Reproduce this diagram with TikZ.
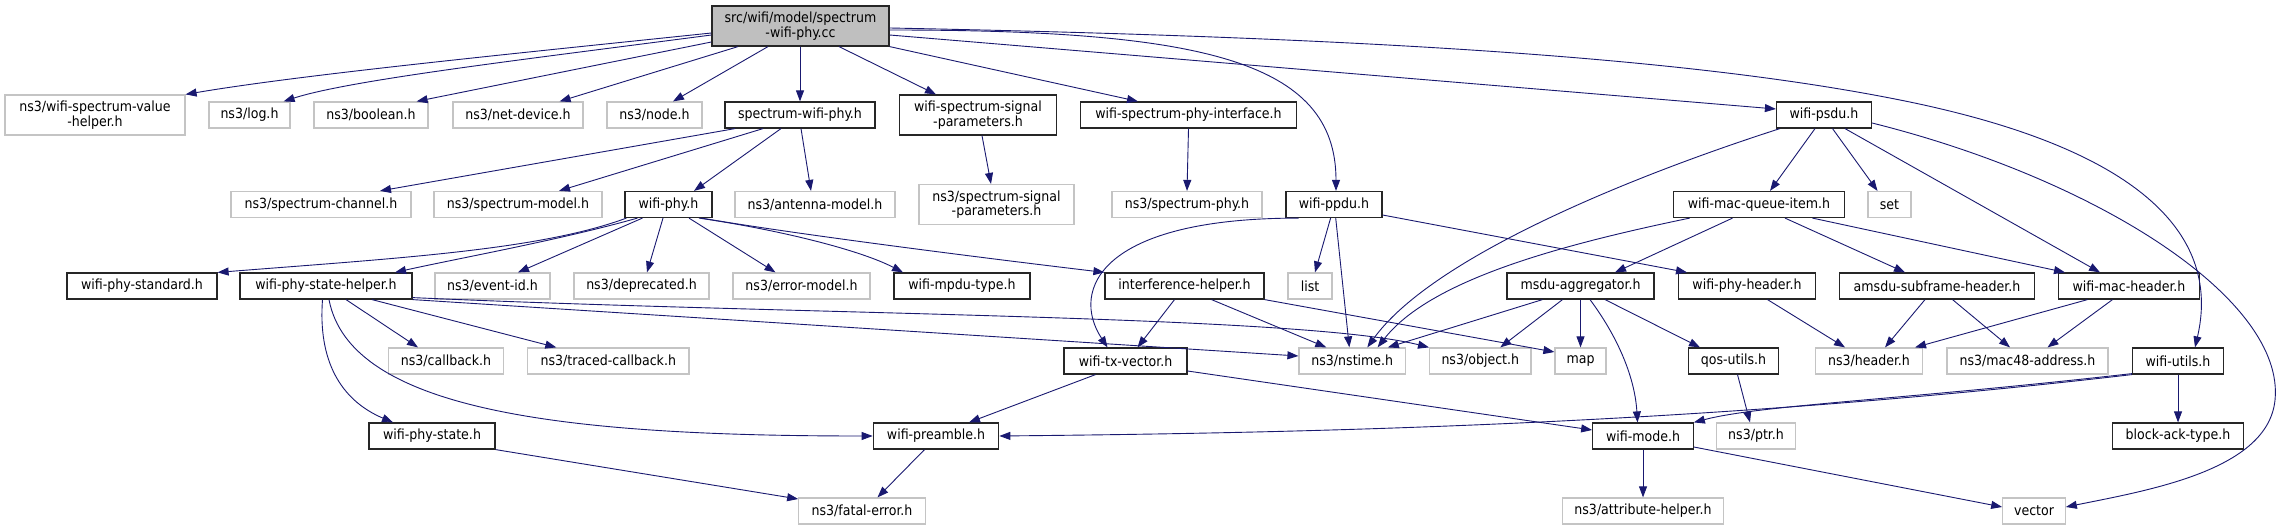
\documentclass[tikz,border=0pt]{standalone}
\usepackage{fontspec}
\setmainfont{DejaVu Sans Condensed}
\usetikzlibrary{arrows.meta}
\definecolor{gfill}{HTML}{BFBFBF}
\definecolor{gline}{HTML}{C4C4C4}
\definecolor{ecol}{HTML}{191970}
\newcommand{\dfs}{\fontsize{14}{14.5}\selectfont}
\tikzset{
  basebox/.style={rectangle, inner sep=0pt, align=center, font=\dfs, text=black, minimum height=26pt},
  intbox/.style={basebox, draw=black!85, line width=1.2pt},
  extbox/.style={basebox, draw=gline, line width=1.2pt},
  dep/.style={draw=ecol, line width=0.9pt, -{Triangle[length=11pt,width=8pt]}},
}
\begin{document}
\begin{tikzpicture}[x=1pt,y=-1pt]
\useasboundingbox[fill=white] (0,0) rectangle (2285,529);
% row 1
\node[intbox, fill=gfill, minimum width=177pt, minimum height=40pt] (main) at (800.5,26) {src/wifi/model/spectrum\\-wifi-phy.cc};
% row 2
\node[extbox, minimum width=180pt, minimum height=40pt] (wsvh) at (95,115) {ns3/wifi-spectrum-value\\-helper.h};
\node[extbox, minimum width=81pt] (log) at (249.5,115) {ns3/log.h};
\node[extbox, minimum width=114pt] (bool) at (371,115) {ns3/boolean.h};
\node[extbox, minimum width=130pt] (netdev) at (518,115) {ns3/net-device.h};
\node[extbox, minimum width=95pt] (nodeh) at (654.5,115) {ns3/node.h};
\node[intbox, minimum width=150pt] (swp) at (800,115) {spectrum-wifi-phy.h};
\node[intbox, minimum width=157pt, minimum height=40pt] (wssp) at (978,115) {wifi-spectrum-signal\\-parameters.h};
\node[intbox, minimum width=216pt] (wspi) at (1188.5,115) {wifi-spectrum-phy-interface.h};
\node[intbox, minimum width=95pt] (psdu) at (1824,115) {wifi-psdu.h};
% row 3
\node[extbox, minimum width=180pt] (spch) at (321,204.5) {ns3/spectrum-channel.h};
\node[extbox, minimum width=168pt] (spmod) at (518,204.5) {ns3/spectrum-model.h};
\node[intbox, minimum width=87pt] (wphy) at (668.5,204.5) {wifi-phy.h};
\node[extbox, minimum width=160pt] (ant) at (815,204.5) {ns3/antenna-model.h};
\node[extbox, minimum width=155pt, minimum height=40pt] (ssp) at (996.5,204.5) {ns3/spectrum-signal\\-parameters.h};
\node[extbox, minimum width=150pt] (sphy) at (1187,204.5) {ns3/spectrum-phy.h};
\node[intbox, minimum width=96pt] (ppdu) at (1334,204.5) {wifi-ppdu.h};
\node[intbox, minimum width=170.5pt] (mqi) at (1759,204.5) {wifi-mac-queue-item.h};
\node[extbox, minimum width=43pt] (setn) at (1889.5,204.5) {set};
% row 4
\node[intbox, minimum width=150pt] (wps) at (142,286) {wifi-phy-standard.h};
\node[intbox, minimum width=172pt] (wpsh) at (326,286) {wifi-phy-state-helper.h};
\node[extbox, minimum width=115pt] (evid) at (492.5,286) {ns3/event-id.h};
\node[extbox, minimum width=135pt] (depr) at (641.5,286) {ns3/deprecated.h};
\node[extbox, minimum width=137pt] (errm) at (801.5,286) {ns3/error-model.h};
\node[intbox, minimum width=136pt] (mpdu) at (962,286) {wifi-mpdu-type.h};
\node[intbox, minimum width=159pt] (ifh) at (1184.5,286) {interference-helper.h};
\node[extbox, minimum width=44pt] (listn) at (1310,286) {list};
\node[intbox, minimum width=147pt] (msdu) at (1580.5,286) {msdu-aggregator.h};
\node[intbox, minimum width=137pt] (wph) at (1747,286) {wifi-phy-header.h};
\node[intbox, minimum width=194.5pt] (amsdu) at (1937,286) {amsdu-subframe-header.h};
\node[intbox, minimum width=141.5pt] (mach) at (2129,286) {wifi-mac-header.h};
% row 5
\node[extbox, minimum width=115.6pt] (cb) at (446,361) {ns3/callback.h};
\node[extbox, minimum width=161.4pt] (tcb) at (608.3,361) {ns3/traced-callback.h};
\node[intbox, minimum width=123pt] (txv) at (1125.5,361) {wifi-tx-vector.h};
\node[extbox, minimum width=106.6pt] (nst) at (1352.3,361) {ns3/nstime.h};
\node[extbox, minimum width=101.4pt] (obj) at (1480.3,361) {ns3/object.h};
\node[extbox, minimum width=51pt] (mapn) at (1580.5,361) {map};
\node[intbox, minimum width=90pt] (qos) at (1733.5,361) {qos-utils.h};
\node[extbox, minimum width=106.5pt] (hdr) at (1869,361) {ns3/header.h};
\node[extbox, minimum width=161pt] (mac48) at (2027.5,361) {ns3/mac48-address.h};
\node[intbox, minimum width=91pt] (wu) at (2178,361) {wifi-utils.h};
% row 6
\node[intbox, minimum width=126pt] (wpst) at (432,436) {wifi-phy-state.h};
\node[intbox, minimum width=125.5pt] (wpre) at (936,436) {wifi-preamble.h};
\node[intbox, minimum width=100.5pt] (wmode) at (1643,436) {wifi-mode.h};
\node[extbox, minimum width=79pt] (ptr) at (1756,436) {ns3/ptr.h};
\node[intbox, minimum width=130.5pt] (back) at (2178,436) {block-ack-type.h};
% row 7
\node[extbox, minimum width=126.5pt] (fatal) at (862,511) {ns3/fatal-error.h};
\node[extbox, minimum width=161.5pt] (attr) at (1643,511) {ns3/attribute-helper.h};
\node[extbox, minimum width=62.5pt] (vec) at (2034,511) {vector};

% edges from main
\draw[dep] ([yshift=-7pt]main.west) .. controls (500,55) and (300,75) .. (wsvh.north east);
\draw[dep] ([yshift=-9pt]main.west) .. controls (520,60) and (350,80) .. ([xshift=-7pt]log.north east);
\draw[dep] ([yshift=-16pt]main.west) -- ([xshift=-12pt]bool.north east);
\draw[dep] ([xshift=-62.5pt]main.south) -- ([xshift=-24pt]netdev.north east);
\draw[dep] ([xshift=-32.5pt]main.south) -- ([xshift=18.5pt]nodeh.north);
\draw[dep] ([xshift=-0.5pt]main.south) -- (swp.north);
\draw[dep] ([xshift=38.5pt]main.south) -- ([xshift=-42pt]wssp.north);
\draw[dep] (main.south east) -- ([xshift=-50.5pt]wspi.north);
\draw[dep] ([yshift=-4pt]main.east) .. controls (1200,30) and (1336,60) .. ([xshift=2pt]ppdu.north);
\draw[dep] ([yshift=-9pt]main.east) -- ([yshift=6pt]psdu.west);
\draw[dep] ([yshift=-2pt]main.east) .. controls (1400,38) and (1700,60) .. (1900,100) .. controls (2150,150) and (2220,240) .. ([xshift=17pt]wu.north);
% spectrum-wifi-phy.h
\draw[dep] ([xshift=-65pt]swp.south) -- ([xshift=59pt]spch.north);
\draw[dep] ([xshift=-37pt]swp.south) -- ([xshift=41pt]spmod.north);
\draw[dep] ([xshift=-19pt]swp.south) -- ([xshift=25.5pt]wphy.north);
\draw[dep] ([xshift=1pt]swp.south) -- ([xshift=-4pt]ant.north);
\draw[dep] ([xshift=4pt]wssp.south) -- ([xshift=-5.5pt]ssp.north);
\draw[dep] (wspi.south) -- (sphy.north);
% wifi-phy.h
\draw[dep] ([xshift=2pt]wphy.south west) .. controls (540,250) and (400,258) .. (wps.north east);
\draw[dep] ([xshift=13pt]wphy.south west) .. controls (560,240) and (460,258) .. ([xshift=69pt]wpsh.north);
\draw[dep] ([xshift=18pt]wphy.south west) -- ([xshift=25.5pt]evid.north);
\draw[dep] ([xshift=-5.5pt]wphy.south) -- ([xshift=5.5pt]depr.north);
\draw[dep] ([xshift=20.5pt]wphy.south) -- ([xshift=-26pt]errm.north);
\draw[dep] ([xshift=30.5pt]wphy.south) .. controls (780,230) and (860,250) .. ([xshift=-59pt]mpdu.north);
\draw[dep] ([xshift=-11pt]wphy.south east) .. controls (800,235) and (1000,260) .. (ifh.north west);
% wifi-phy-state-helper.h
\draw[dep] ([xshift=20pt]wpsh.south) -- ([xshift=-28pt]cb.north);
\draw[dep] ([xshift=46pt]wpsh.south) -- ([xshift=-52pt]tcb.north);
\draw[dep] ([xshift=-3.5pt]wpsh.south) .. controls (318,360) and (340,400) .. ([xshift=-39pt]wpst.north);
\draw[dep] ([xshift=3pt]wpsh.south) .. controls (350,410) and (560,436) .. (wpre.west);
\draw[dep] (wpsh.south east) -- ([yshift=5pt]nst.west);
\draw[dep] ([yshift=2pt]wpsh.south east) .. controls (800,315) and (1300,315) .. (obj.north west);
\draw[dep] (wpst.south east) -- ([yshift=12pt]fatal.west);
\draw[dep] ([xshift=-11.5pt]wpre.south) -- ([xshift=15.5pt]fatal.north);
% wifi-tx-vector.h
\draw[dep] ([xshift=-30pt]txv.south) -- ([xshift=33pt]wpre.north);
\draw[dep] ([yshift=-10pt]txv.east) -- ([yshift=6pt]wmode.west);
% interference-helper.h
\draw[dep] ([xshift=-10pt]ifh.south) -- ([xshift=12pt]txv.north);
\draw[dep] ([xshift=27pt]ifh.south) -- ([xshift=-26pt]nst.north);
\draw[dep] (ifh.south east) -- ([yshift=9pt]mapn.west);
% wifi-ppdu.h
\draw[dep] ([xshift=-35.5pt]ppdu.south) .. controls (1100,218) and (1070,290) .. ([xshift=-18pt]txv.north);
\draw[dep] ([xshift=-3.4pt]ppdu.south) -- ([xshift=5pt]listn.north);
\draw[dep] ([xshift=1.7pt]ppdu.south) -- ([xshift=-3pt]nst.north);
\draw[dep] ([yshift=-10.5pt]ppdu.east) -- ([xshift=-60pt]wph.north);
% wifi-psdu.h
\draw[dep] ([xshift=4pt]psdu.south west) .. controls (1620,180) and (1430,260) .. ([xshift=15pt]nst.north);
\draw[dep] ([xshift=-9pt]psdu.south) -- ([xshift=11pt]mqi.north);
\draw[dep] ([xshift=8.5pt]psdu.south) -- ([xshift=-12pt]setn.north);
\draw[dep] ([xshift=21pt]psdu.south) -- ([xshift=-29pt]mach.north);
\draw[dep] ([yshift=-8pt]psdu.east) .. controls (2100,180) and (2285,300) .. (2275,400) .. controls (2268,470) and (2150,490) .. ([yshift=4pt]vec.east);
% wifi-mac-queue-item.h
\draw[dep] ([xshift=16.5pt]mqi.south west) .. controls (1560,245) and (1430,280) .. ([xshift=25.3pt]nst.north);
\draw[dep] ([xshift=-26.5pt]mqi.south) -- ([xshift=34.5pt]msdu.north);
\draw[dep] ([xshift=26pt]mqi.south) -- ([xshift=-32pt]amsdu.north);
\draw[dep] ([xshift=53.5pt]mqi.south) -- ([xshift=-64pt]mach.north);
% msdu-aggregator.h
\draw[dep] ([xshift=-38pt]msdu.south) -- ([xshift=35.5pt]nst.north);
\draw[dep] ([xshift=-18pt]msdu.south) -- ([xshift=20pt]obj.north);
\draw[dep] (msdu.south) -- (mapn.north);
\draw[dep] ([xshift=9.5pt]msdu.south) .. controls (1620,340) and (1635,380) .. ([xshift=-5.5pt]wmode.north);
\draw[dep] ([xshift=24.5pt]msdu.south) -- ([xshift=-33.5pt]qos.north);
% headers
\draw[dep] ([xshift=20.5pt]wph.south) -- ([xshift=-24pt]hdr.north);
\draw[dep] ([xshift=-12pt]amsdu.south) -- ([xshift=16pt]hdr.north);
\draw[dep] ([xshift=15.5pt]amsdu.south) -- ([xshift=-17.5pt]mac48.north);
\draw[dep] ([xshift=-41.5pt]mach.south) -- ([xshift=46pt]hdr.north);
\draw[dep] ([xshift=-16.5pt]mach.south) -- ([xshift=20pt]mac48.north);
\draw[dep] ([xshift=4pt]qos.south) -- ([xshift=-6pt]ptr.north);
% wifi-utils.h
\draw[dep] (wu.south west) .. controls (1700,425) and (1300,433) .. (wpre.east);
\draw[dep] ([yshift=1pt]wu.south west) .. controls (1900,400) and (1760,405) .. (wmode.north east);
\draw[dep] (wu.south) -- (back.north);
% wifi-mode.h
\draw[dep] (wmode.south) -- (attr.north);
\draw[dep] ([yshift=-11pt]wmode.east) -- ([yshift=4pt]vec.west);
\end{tikzpicture}
\end{document}
